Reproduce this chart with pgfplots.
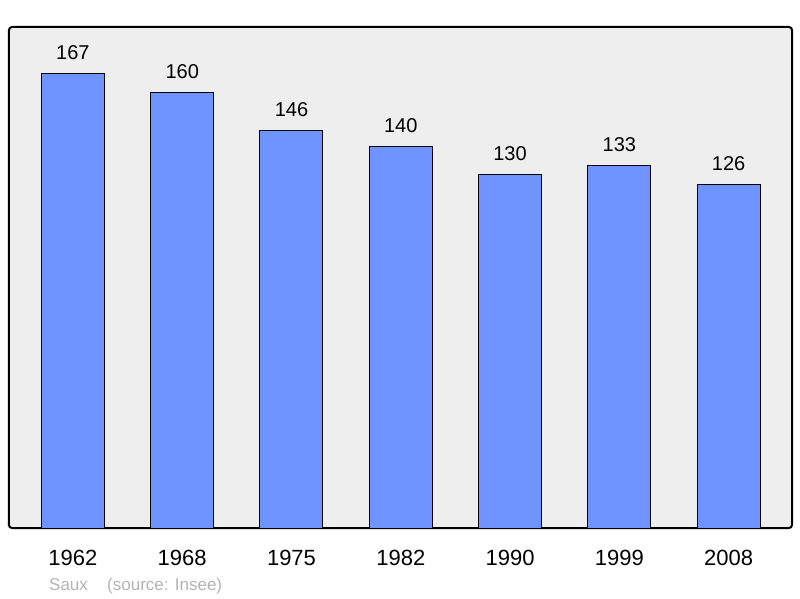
\documentclass[border=0pt]{standalone}
\usepackage{pgfplots}
\pgfplotsset{compat=1.18}
\usepackage{fontspec}
\setmainfont{Liberation Sans}
\definecolor{barblue}{HTML}{7094FF}
\definecolor{bggray}{HTML}{EEEEEE}
\definecolor{srcgray}{HTML}{B4B4B4}
\begin{document}
\begin{tikzpicture}
\path[use as bounding box] (0,0) rectangle (800pt,598pt);
\begin{axis}[
  at={(9pt,70pt)}, anchor=south west,
  scale only axis, width=783pt, height=501pt,
  xmin=-0.585, xmax=6.58, ymin=0, ymax=184,
  axis background/.style={fill=bggray},
  axis line style={line width=2pt, rounded corners=3pt},
  ytick=\empty,
  xtick={0,...,6},
  xticklabels={1962,1968,1975,1982,1990,1999,2008},
  major tick length=0pt,
  xticklabel style={font=\fontsize{22}{26}\selectfont, text=black, yshift=-19pt},
  /pgf/number format/assume math mode=true,
  nodes near coords,
  nodes near coords style={font=\fontsize{20}{24}\selectfont, inner sep=0pt, anchor=base, yshift=14pt},
]
\addplot[ybar, bar width=63pt, fill=barblue, draw=black, line width=1pt] coordinates {
  (0,167) (1,160) (2,146) (3,140) (4,130) (5,133) (6,126)
};
\end{axis}
\node[anchor=base west, inner sep=0pt, text=srcgray, font=\fontsize{17}{20}\selectfont] at (49pt,8pt) {Saux};
\node[anchor=base west, inner sep=0pt, text=srcgray, font=\fontsize{17}{20}\selectfont] at (107pt,8pt) {(source: Insee)};
\end{tikzpicture}
\end{document}
